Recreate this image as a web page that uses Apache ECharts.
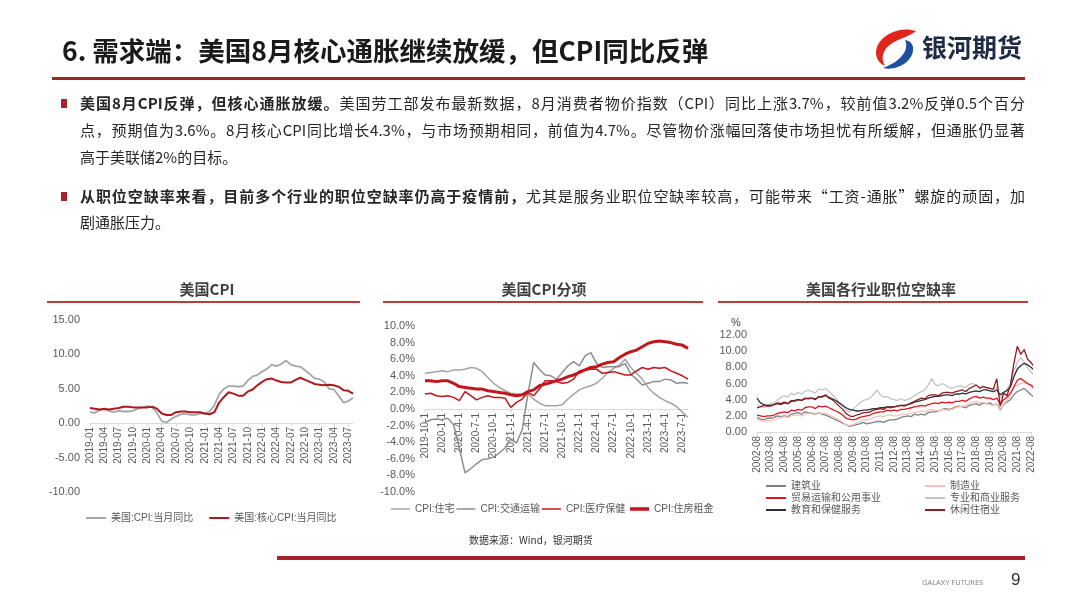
<!DOCTYPE html>
<html>
<head>
<meta charset="utf-8">
<script src="https://cdn.jsdelivr.net/npm/echarts@6/dist/echarts.min.js"></script>
<style>
  body { margin: 0; width: 1080px; height: 608px; overflow: hidden; background: #fff; position: relative;
         font-family: "Noto Sans CJK SC", sans-serif; }
  #chart { position: absolute; left: 0; top: 0; width: 1080px; height: 608px; }
  .abs { position: absolute; white-space: nowrap; }
  .ln { position: absolute; left: 80px; height: 20px; line-height: 20px; font-size: 15px; color: #262626; white-space: nowrap; }
  .full { width: 945px; text-align: justify; text-align-last: justify; }
  .dot { position: absolute; left: 61px; width: 6px; height: 9px; background: #a8222a; }
  .ptitle { position: absolute; width: 240px; text-align: center; font-size: 15px; font-weight: 700; color: #404040; line-height: 20px; }
  .prule { position: absolute; top: 301px; height: 2px; background: #c0393b; }
  b { font-weight: 700; }
</style>
</head>
<body>
<div id="chart"></div>

<!-- 页眉 -->
<div class="abs" style="left:62px;top:31px;font-size:26.5px;font-weight:700;line-height:38px;color:#1a1a1a">6. 需求端：美国8月核心通胀继续放缓，但CPI同比反弹</div>
<svg class="abs" style="left:872px;top:27px" width="48" height="44" viewBox="0 0 48 44">
  <path d="M44 4 C30 -1 10 6 5 20 C2 28 6 36 13 39 C8 31 11 21 22 15 C30 11 38 9 44 4 Z" fill="#e1251b"/>
  <path d="M11 41 C24 44 39 36 41 24 C42 18 39 14 33 13 C37 21 32 33 11 41 Z" fill="#1f4fa0"/>
</svg>
<div class="abs" style="left:922px;top:29px;font-size:25px;font-weight:700;line-height:34px;color:#1f2a44">银河期货</div>
<div class="abs" style="left:52px;top:77px;width:973px;height:3px;background:#a8222a"></div>

<!-- 正文 -->
<div class="dot" style="top:99px"></div>
<div class="ln full" style="top:93px"><b>美国8月CPI反弹，但核心通胀放缓。</b>美国劳工部发布最新数据，8月消费者物价指数（CPI）同比上涨3.7%，较前值3.2%反弹0.5个百分</div>
<div class="ln full" style="top:120px">点，预期值为3.6%。8月核心CPI同比增长4.3%，与市场预期相同，前值为4.7%。尽管物价涨幅回落使市场担忧有所缓解，但通胀仍显著</div>
<div class="ln" style="top:147px">高于美联储2%的目标。</div>
<div class="dot" style="top:192px"></div>
<div class="ln full" style="top:186px"><b>从职位空缺率来看，目前多个行业的职位空缺率仍高于疫情前，</b>尤其是服务业职位空缺率较高，可能带来“工资-通胀”螺旋的顽固，加</div>
<div class="ln" style="top:212px">剧通胀压力。</div>

<!-- 图标题 -->
<div class="ptitle" style="left:87px;top:279px">美国CPI</div>
<div class="ptitle" style="left:424px;top:279px">美国CPI分项</div>
<div class="ptitle" style="left:761px;top:279px">美国各行业职位空缺率</div>
<div class="prule" style="left:47px;width:313px"></div>
<div class="prule" style="left:383px;width:320px"></div>
<div class="prule" style="left:718px;width:310px"></div>
<div class="abs" style="left:731px;top:316px;font-size:11px;color:#404040;font-family:'Liberation Sans'">%</div>

<!-- 页脚 -->
<div class="abs" style="left:469px;top:533px;font-size:10px;line-height:14px;color:#333">数据来源：Wind，银河期货</div>
<div class="abs" style="left:277px;top:556px;width:748px;height:4px;background:#a8222a"></div>
<div class="abs" style="left:922px;top:577px;font-size:7.5px;line-height:10px;color:#808080;font-family:'Open Sans'">GALAXY FUTURES</div>
<div class="abs" style="left:1011px;top:569px;font-size:17px;line-height:22px;color:#333;font-family:'Liberation Sans'">9</div>

<script>
// 美国CPI 当月同比（2019-01 ~ 2023-08）
const cpiYoy = [1.6, 1.5, 1.9, 2.0, 1.8, 1.6, 1.8, 1.7, 1.7, 1.8, 2.1, 2.3,
  2.5, 2.3, 1.5, 0.3, 0.1, 0.6, 1.0, 1.3, 1.4, 1.2, 1.2, 1.4,
  1.4, 1.7, 2.6, 4.2, 5.0, 5.4, 5.4, 5.3, 5.4, 6.2, 6.8, 7.0,
  7.5, 7.9, 8.5, 8.3, 8.6, 9.1, 8.5, 8.3, 8.2, 7.7, 7.1, 6.5,
  6.4, 6.0, 5.0, 4.9, 4.0, 3.0, 3.2, 3.7]
const coreYoy = [2.2, 2.1, 2.0, 2.1, 2.0, 2.1, 2.2, 2.4, 2.4, 2.3, 2.3, 2.3,
  2.3, 2.4, 2.1, 1.4, 1.2, 1.2, 1.6, 1.7, 1.7, 1.6, 1.6, 1.6,
  1.4, 1.3, 1.6, 3.0, 3.8, 4.5, 4.3, 4.0, 4.0, 4.6, 4.9, 5.5,
  6.0, 6.4, 6.5, 6.2, 6.0, 5.9, 5.9, 6.3, 6.6, 6.3, 6.0, 5.7,
  5.6, 5.5, 5.6, 5.5, 5.3, 4.8, 4.7, 4.3]

// CPI分项（2019-10 ~ 2023-08）
const housing = [4.3, 4.4, 4.5, 4.6, 4.5, 4.7, 4.7, 4.8, 5.0, 4.9, 4.5, 3.8,
  3.1, 2.6, 2.2, 1.9, 1.8, 1.8, 1.8, 1.2, 0.7, 0.4, 0.4, 0.4,
  0.5, 1.2, 1.8, 2.3, 2.6, 2.8, 3.1, 3.7, 4.4, 4.9, 5.3, 6.0,
  5.0, 4.3, 3.6, 2.6, 1.9, 1.4, 1.0, 0.7, 0.3, -0.4, -1.0]
const transport = [-1.6, -1.3, -1.2, -1.3, -1.1, -1.9, -4.7, -7.7, -7.2, -6.6, -6.1, -6.0,
  -5.8, -5.3, -4.7, -3.6, -4.1, -2.5, 1.8, 5.6, 4.8, 4.1, 4.0, 3.6,
  4.4, 5.2, 5.7, 5.2, 6.4, 6.8, 5.5, 5.0, 5.1, 5.1, 5.1, 5.5,
  4.2, 3.6, 2.9, 3.1, 3.3, 3.3, 3.6, 3.5, 3.1, 3.2, 3.1]
const medical = [1.8, 1.9, 1.6, 1.5, 1.6, 1.4, 1.0, 2.1, 1.6, 1.1, 1.4, 1.6,
  1.4, 1.4, 1.3, 0.2, 0.8, 1.2, 2.0, 1.6, 2.4, 3.4, 3.4, 3.3,
  3.1, 3.2, 3.6, 4.6, 4.7, 4.8, 4.8, 4.3, 4.4, 4.5, 4.3, 4.1,
  4.1, 4.6, 5.0, 4.8, 5.0, 4.9, 5.0, 4.6, 4.3, 4.0, 3.6]
const rent = [3.4, 3.4, 3.3, 3.4, 3.4, 3.1, 2.7, 2.6, 2.5, 2.4, 2.4, 2.2,
  2.1, 2.0, 1.9, 1.7, 1.6, 1.7, 2.1, 2.3, 2.8, 3.0, 3.2, 3.4,
  3.6, 3.9, 4.1, 4.4, 4.7, 5.0, 5.1, 5.4, 5.6, 5.7, 6.2, 6.6,
  6.9, 7.1, 7.5, 7.9, 8.1, 8.2, 8.1, 8.0, 7.8, 7.7, 7.3]

// 各行业职位空缺率，季度取点（2002-08 起，每年 08/11/02/05）
const construction = [1.8, 1.6, 1.5, 1.7, 1.7, 1.8, 2.0, 1.9, 2.0, 1.9, 2.2, 2.3, 2.4, 2.2, 2.5, 2.4,
  2.3, 2.2, 2.4, 2.2, 2.1, 1.9, 1.7, 1.5, 1.3, 1.1, 0.9, 0.7, 0.8, 0.9, 1.0, 1.2,
  1.0, 1.1, 1.2, 1.3, 1.3, 1.2, 1.4, 1.5, 1.5, 1.6, 1.8, 1.9, 2.0, 1.9, 2.2, 2.1,
  2.2, 2.1, 2.4, 2.5, 2.5, 2.6, 2.8, 2.9, 2.8, 2.9, 3.1, 3.2, 3.1, 3.0, 3.3, 3.4,
  3.5, 3.3, 3.6, 3.5, 3.6, 3.3, 3.5, 2.8, 3.4, 3.7, 4.0, 4.6, 5.0, 5.2, 5.4, 5.0,
  4.6, 4.3, 4.0, 4.1]
const manufacturing = [1.6, 1.4, 1.3, 1.4, 1.4, 1.5, 1.7, 1.8, 1.9, 1.8, 2.0, 2.1, 2.1, 2.0, 2.2, 2.3,
  2.4, 2.3, 2.4, 2.3, 2.3, 2.1, 1.9, 1.7, 1.5, 1.2, 0.9, 0.8, 0.9, 1.1, 1.3, 1.5,
  1.5, 1.6, 1.8, 1.9, 2.0, 1.9, 2.1, 2.1, 2.0, 2.0, 2.2, 2.2, 2.2, 2.3, 2.4, 2.5,
  2.6, 2.5, 2.7, 2.8, 2.7, 2.6, 2.8, 2.7, 2.7, 2.8, 3.0, 3.1, 3.2, 3.3, 3.5, 3.7,
  3.8, 3.6, 3.7, 3.5, 3.4, 3.3, 3.5, 2.6, 3.5, 3.9, 4.6, 5.5, 5.8, 6.0, 6.1, 5.9,
  5.6, 5.2, 5.0, 4.7]
const tradeUtil = [2.1, 2.0, 1.9, 2.0, 2.0, 2.1, 2.3, 2.4, 2.5, 2.4, 2.7, 2.6, 2.8, 2.7, 3.0, 3.1,
  3.1, 2.9, 3.2, 3.1, 3.2, 3.0, 2.8, 2.6, 2.4, 2.1, 1.7, 1.6, 1.5, 1.6, 1.8, 1.9,
  2.0, 2.1, 2.3, 2.4, 2.5, 2.5, 2.7, 2.6, 2.7, 2.6, 2.8, 2.8, 2.9, 3.0, 3.1, 3.2,
  3.3, 3.2, 3.4, 3.5, 3.6, 3.5, 3.7, 3.6, 3.7, 3.6, 3.8, 3.8, 3.9, 3.8, 4.1, 4.3,
  4.4, 4.2, 4.3, 4.2, 4.2, 4.0, 4.2, 3.4, 4.0, 4.3, 4.8, 5.6, 6.4, 6.6, 6.3, 6.0,
  5.8, 5.4, 5.2, 5.0]
const profBiz = [3.4, 3.2, 3.0, 3.3, 3.5, 3.6, 4.0, 4.3, 4.5, 4.3, 4.8, 4.6, 4.9, 4.7, 5.0, 5.2,
  5.0, 4.8, 5.3, 5.2, 5.4, 5.0, 4.6, 4.2, 3.6, 3.2, 2.7, 2.5, 2.8, 3.2, 3.6, 3.9,
  4.0, 4.2, 4.6, 5.2, 4.6, 4.3, 4.4, 4.1, 4.0, 3.9, 4.1, 3.9, 4.0, 4.2, 4.5, 4.8,
  5.0, 5.2, 5.8, 6.6, 5.9, 5.7, 6.0, 5.8, 5.5, 5.4, 5.6, 5.7, 5.6, 5.5, 5.9, 6.0,
  5.8, 5.6, 5.7, 5.5, 5.4, 5.2, 5.6, 4.2, 4.9, 5.3, 6.0, 7.5, 8.6, 9.2, 8.6, 8.0,
  7.4, 7.0, 6.5, 5.8]
const eduHealth = [4.2, 3.6, 3.4, 3.3, 3.3, 3.4, 3.5, 3.4, 3.6, 3.5, 3.8, 3.9, 4.0, 3.9, 4.1, 4.2,
  4.2, 4.1, 4.3, 4.4, 4.5, 4.3, 4.1, 3.9, 3.6, 3.3, 3.0, 2.8, 2.7, 2.6, 2.6, 2.7,
  2.7, 2.8, 2.9, 2.9, 3.0, 3.0, 3.1, 3.1, 3.1, 3.2, 3.3, 3.3, 3.4, 3.5, 3.7, 3.8,
  3.9, 4.0, 4.2, 4.3, 4.4, 4.4, 4.5, 4.6, 4.6, 4.5, 4.7, 4.7, 4.8, 4.7, 4.9, 5.0,
  5.1, 5.0, 5.2, 5.2, 5.1, 5.0, 5.2, 4.6, 4.9, 5.1, 5.6, 6.8, 7.8, 8.2, 8.5, 8.3,
  8.0, 7.6, 7.3, 7.0]
const leisure = [3.0, 3.1, 3.3, 3.2, 3.2, 3.4, 3.6, 3.5, 3.7, 3.5, 3.9, 3.8, 4.0, 3.9, 4.2, 4.1,
  4.2, 4.0, 4.4, 4.3, 4.6, 4.2, 4.0, 3.6, 3.2, 2.8, 2.3, 2.0, 1.9, 2.1, 2.2, 2.4,
  2.4, 2.5, 2.7, 2.8, 2.9, 2.8, 3.1, 3.0, 3.1, 3.2, 3.3, 3.2, 3.4, 3.6, 3.8, 4.0,
  4.2, 4.1, 4.5, 4.6, 4.6, 4.5, 4.8, 4.9, 4.9, 4.8, 5.0, 5.1, 5.2, 5.0, 5.4, 5.6,
  5.8, 5.4, 5.6, 5.5, 5.4, 5.3, 6.6, 3.2, 4.8, 4.5, 5.8, 8.5, 10.6, 9.6, 10.2, 9.0,
  8.6, 8.0, 7.8, 7.2]

// 日期类目
function dateLabels(y0, m0, n, step, fmt) {
  const out = []
  for (let i = 0; i < n; i++) {
    const t = (m0 - 1) + i * step
    const y = y0 + Math.floor(t / 12)
    const m = (t % 12) + 1
    out.push(fmt === 'ymd' ? `${y}-${m}-1` : `${y}-${String(m).padStart(2, '0')}`)
  }
  return out
}
const cpiMonths = dateLabels(2019, 1, cpiYoy.length, 1, 'ym')
const itemMonths = dateLabels(2019, 10, rent.length, 1, 'ymd')
const joltsQuarters = dateLabels(2002, 8, leisure.length, 3, 'ym')

const FONT = '"Liberation Sans", "Noto Sans CJK SC", sans-serif'
const GRAY_TXT = '#595959'

// offset: 把x轴从网格底部上移到0值处
function xCat(gridIndex, data, interval, extra) {
  return Object.assign({
    type: 'category',
    gridIndex: gridIndex,
    data: data,
    boundaryGap: false,
    position: 'bottom',
    axisLine: { onZero: false, lineStyle: { color: '#d9d9d9', width: 1 } },
    axisTick: { show: true, interval: interval, length: 3, lineStyle: { color: '#d9d9d9' } },
    axisLabel: { interval: interval, rotate: 90, margin: 4, color: GRAY_TXT, fontSize: 10, fontFamily: FONT },
    splitLine: { show: false }
  }, extra || {})
}
function yVal(gridIndex, min, max, interval, fmt) {
  return {
    type: 'value',
    gridIndex: gridIndex,
    min: min,
    max: max,
    interval: interval,
    axisLine: { show: false },
    axisTick: { show: false },
    splitLine: { show: false },
    axisLabel: { formatter: fmt, color: GRAY_TXT, fontSize: 11, margin: 10, fontFamily: FONT }
  }
}
function line(name, data, xi, color, width) {
  return {
    name: name,
    type: 'line',
    xAxisIndex: xi,
    yAxisIndex: xi,
    data: data,
    symbol: 'none',
    lineStyle: { color: color, width: width },
    itemStyle: { color: color },
    emphasis: { disabled: true }
  }
}
const legendText = { fontSize: 10, color: GRAY_TXT, fontFamily: FONT }
function legendAt(names, left, top, h, extra) {
  return Object.assign({
    data: names, left: left, top: top, icon: 'rect',
    itemWidth: 20, itemHeight: h, itemGap: 8, textStyle: legendText
  }, extra || {})
}

const chart = echarts.init(document.getElementById('chart'))
const option = {
  animation: false,
  grid: [
    { left: 90, top: 320, width: 263, height: 172 },
    { left: 425, top: 326, width: 263, height: 166 },
    { left: 757, top: 335, width: 274, height: 97 }
  ],
  xAxis: [
    xCat(0, cpiMonths, 2, { offset: -69 }),
    xCat(1, itemMonths, 2, { offset: -83 }),
    xCat(2, joltsQuarters, 3, { max: 80 })
  ],
  yAxis: [
    yVal(0, -10, 15, 5, v => v.toFixed(2)),
    yVal(1, -10, 10, 2, v => v.toFixed(1) + '%'),
    yVal(2, 0, 12, 2, v => v.toFixed(2))
  ],
  legend: [
    legendAt(['美国:CPI:当月同比', '美国:核心CPI:当月同比'], 81, 508, 2, { itemGap: 16 }),
    legendAt(['CPI:住宅', 'CPI:交通运输', 'CPI:医疗保健'], 386, 499, 1.5, { itemGap: 2, itemWidth: 19 }),
    legendAt(['CPI:住房租金'], 625, 499, 3.5, { itemWidth: 19 }),
    legendAt(['建筑业', '贸易运输和公用事业', '教育和保健服务'], 761, 476, 2, { orient: 'vertical', itemGap: 2 }),
    legendAt(['制造业', '专业和商业服务', '休闲住宿业'], 920, 476, 2, { orient: 'vertical', itemGap: 2 })
  ],
  series: [
    line('美国:CPI:当月同比', cpiYoy, 0, '#a6a6a6', 1.8),
    line('美国:核心CPI:当月同比', coreYoy, 0, '#b01a1e', 2),

    line('CPI:住宅', housing, 1, '#a3a3a3', 1.5),
    line('CPI:交通运输', transport, 1, '#8c8c8c', 1.5),
    line('CPI:医疗保健', medical, 1, '#c0161c', 1.5),
    line('CPI:住房租金', rent, 1, '#c0161c', 3),

    line('建筑业', construction, 2, '#808080', 1.3),
    line('制造业', manufacturing, 2, '#f4c2be', 1.3),
    line('专业和商业服务', profBiz, 2, '#c4c4c4', 1.3),
    line('贸易运输和公用事业', tradeUtil, 2, '#e0161b', 1.3),
    line('教育和保健服务', eduHealth, 2, '#2e2e3a', 1.3),
    line('休闲住宿业', leisure, 2, '#8e1b1e', 1.3)
  ]
}
chart.setOption(option)
</script>
</body>
</html>
